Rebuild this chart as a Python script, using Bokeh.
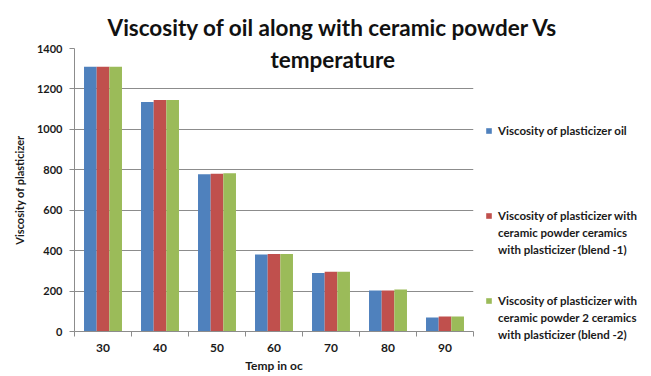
from bokeh.plotting import figure
from bokeh.models import (Range1d, Label, Legend, LegendItem, FixedTicker, ColumnDataSource, LinearAxis)
from bokeh.transform import dodge
from bokeh.embed import file_html
from bokeh.resources import INLINE

temps = ["30", "40", "50", "60", "70", "80", "90"]
oil = [1310, 1135, 778, 381, 290, 203, 69]
blend1 = [1310, 1145, 780, 384, 295, 203, 74]
blend2 = [1310, 1145, 783, 384, 295, 208, 74]
series_lines = [
    ["Viscosity of plasticizer oil"],
    ["Viscosity of plasticizer with", "ceramic powder ceramics", "with plasticizer (blend -1)"],
    ["Viscosity of plasticizer with", "ceramic powder 2 ceramics", "with plasticizer (blend -2)"],
]
colors = ["#4F81BD", "#C0504D", "#9BBB59"]
y_ticks = [0, 200, 400, 600, 800, 1000, 1200, 1400]
title_lines = ["Viscosity of oil along with ceramic powder Vs", "temperature"]
x_title = "Temp in oc"
y_title = "Viscosity of plasticizer"

FONT = "Lato"
TXT = "#1a1a1a"
GRID = "#8c8c8c"

n = len(temps)
centers = [i + 0.5 for i in range(n)]          # category slot centres on a 0..n axis
bounds = list(range(n + 1))                     # category slot boundaries
src = ColumnDataSource(dict(xc=centers, temps=temps, oil=oil, blend1=blend1, blend2=blend2))

p = figure(x_range=Range1d(0, n), y_range=Range1d(0, 1400),
           frame_width=399, frame_height=283, output_backend="svg", toolbar_location=None,
           x_axis_location=None,
           min_border_left=74, min_border_right=178, min_border_top=48, min_border_bottom=45)
p.outline_line_color = None
p.background_fill_color = "white"
p.border_fill_color = "white"

p.title.text = title_lines[0]
p.title.align = "left"
p.title.offset = 33
p.title.standoff = 15
p.title.text_font = FONT
p.title.text_font_style = "bold"
p.title.text_font_size = "22.5px"
p.title.text_color = "#111111"

bw = 0.222
renderers = []
for off, key, col in zip([-bw, 0, bw], ["oil", "blend1", "blend2"], colors):
    r = p.vbar(x=dodge("xc", off), top=key, width=bw, source=src,
               fill_color=col, line_color=None)
    renderers.append(r)

p.xgrid.grid_line_color = None
p.ygrid.grid_line_color = GRID
p.ygrid.grid_line_width = 1
p.yaxis.ticker = FixedTicker(ticks=y_ticks)

# x axis: labels at slot centres, short ticks at slot boundaries (minor ticks)
x_axis = LinearAxis(ticker=FixedTicker(ticks=centers, minor_ticks=bounds),
                    major_label_overrides={c: t for c, t in zip(centers, temps)},
                    axis_line_color=GRID,
                    major_tick_line_color=None, major_tick_out=5, major_tick_in=0,
                    minor_tick_line_color=GRID, minor_tick_out=5, minor_tick_in=0,
                    major_label_text_font=FONT, major_label_text_font_style="bold",
                    major_label_text_font_size="12px", major_label_text_color=TXT,
                    major_label_standoff=7,
                    axis_label=x_title, axis_label_text_font=FONT, axis_label_text_font_style="bold",
                    axis_label_text_font_size="12px", axis_label_text_color=TXT,
                    axis_label_standoff=3)
p.add_layout(x_axis, "below")

ya = p.yaxis[0]
ya.axis_line_color = GRID
ya.major_tick_line_color = GRID
ya.minor_tick_line_color = None
ya.major_tick_out = 5
ya.major_tick_in = 0
ya.major_label_text_font = FONT
ya.major_label_text_font_style = "bold"
ya.major_label_text_font_size = "11px"
ya.major_label_text_color = TXT
ya.major_label_standoff = 7
ya.axis_label = y_title
ya.axis_label_text_font = FONT
ya.axis_label_text_font_style = "bold"
ya.axis_label_text_font_size = "11px"
ya.axis_label_text_color = TXT
ya.axis_label_standoff = 8

# second title line (inside the plot area, as in the reference)
p.add_layout(Label(x=4.53, y=1348, text=title_lines[1], text_align="center", text_baseline="middle",
                   text_font=FONT, text_font_style="bold", text_font_size="22.5px", text_color="#111111"))

# legend: one row per text line; continuation / spacer rows carry no swatch
rows = []
rows.append(LegendItem(label=series_lines[0][0], renderers=[renderers[0]]))
rows += [LegendItem(label=" ", renderers=[]) for _ in range(4)]
rows.append(LegendItem(label=series_lines[1][0], renderers=[renderers[1]]))
rows += [LegendItem(label=t, renderers=[]) for t in series_lines[1][1:]]
rows += [LegendItem(label=" ", renderers=[]) for _ in range(2)]
rows.append(LegendItem(label=series_lines[2][0], renderers=[renderers[2]]))
rows += [LegendItem(label=t, renderers=[]) for t in series_lines[2][1:]]

legend = Legend(items=rows, location=(12, -12), orientation="vertical",
                glyph_width=7, glyph_height=7, label_standoff=6, padding=0, margin=0,
                spacing=0, label_height=17, border_line_color=None, background_fill_alpha=0,
                label_text_font=FONT, label_text_font_style="bold", label_text_font_size="11.5px",
                label_text_color=TXT)
p.add_layout(legend, "right")

open("out.html", "w").write(file_html(p, INLINE))
